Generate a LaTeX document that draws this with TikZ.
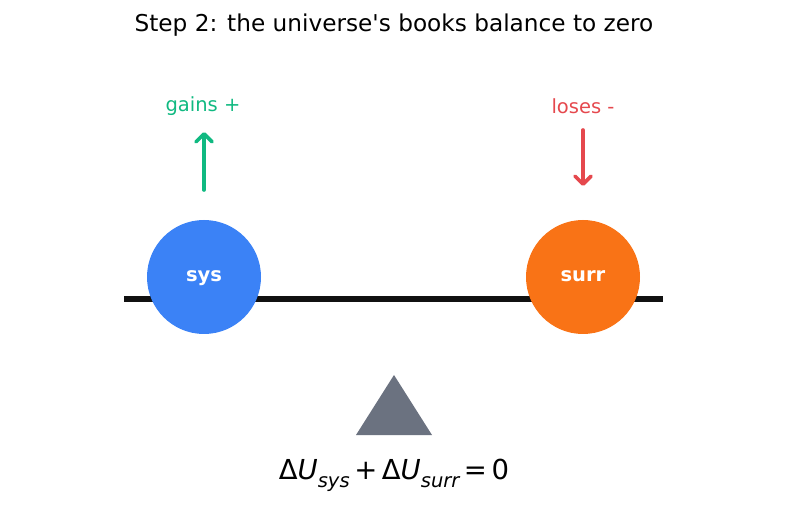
\documentclass[tikz,border=0pt]{standalone}
\usepackage{fontspec}
\setmainfont{DejaVu Sans}
\usetikzlibrary{arrows.meta}

\definecolor{sysblue}{HTML}{3B82F6}
\definecolor{surrorange}{HTML}{F97316}
\definecolor{gaingreen}{HTML}{10B981}
\definecolor{loosered}{HTML}{E5484D}
\definecolor{pivotgray}{HTML}{6B7280}
\definecolor{beamblack}{HTML}{111111}

\begin{document}
\begin{tikzpicture}[x=1pt, y=-1pt,
  body/.style={circle, minimum size=114pt, inner sep=0pt, text=white,
               text height=0.92em, text depth=0pt,
               font=\fontsize{19.5}{22}\selectfont\bfseries},
  flow/.style={line width=3.6pt, line cap=round,
               -{Straight Barb[length=8pt, width=16pt, line cap=round, line join=round]}},
  tag/.style={font=\fontsize{19.5}{22}\selectfont},
]
  \useasboundingbox (0,0) rectangle (787,510);
  % title
  \node[font=\fontsize{23.2}{28}\selectfont] (title) at (394,25)
    {Step 2: the universe\textquotesingle s books balance to zero};
  % beam and the two bodies
  \draw[line width=6pt, beamblack] (124,299) -- (663,299);
  \node[body, fill=sysblue] (sys) at (204,277) {sys};
  \node[body, fill=surrorange] (surr) at (583,277) {surr};
  % what flows
  \node[tag, text=gaingreen] (gain) at (203,106) {gains +};
  \node[tag, text=loosered] (lose) at (583,106) {loses -};
  \coordinate (gtail) at (204,190);
  \coordinate (ghead) at (204,132);
  \coordinate (rtail) at (583,130);
  \coordinate (rhead) at (583,186);
  \draw[flow, gaingreen] (gtail) -- (ghead);
  \draw[flow, loosered] (rtail) -- (rhead);
  % pivot
  \fill[pivotgray] (394,375) -- (432,435) -- (356,435) -- cycle;
  % balance
  \node[font=\fontsize{27.5}{30}\selectfont] (law) at (394,475)
    {Δ\textit{U}\raisebox{-0.28em}{\fontsize{19.5}{22}\selectfont\itshape sys}\,+\,Δ\textit{U}\raisebox{-0.28em}{\fontsize{19.5}{22}\selectfont\itshape surr}\,=\,0};
\end{tikzpicture}
\end{document}
